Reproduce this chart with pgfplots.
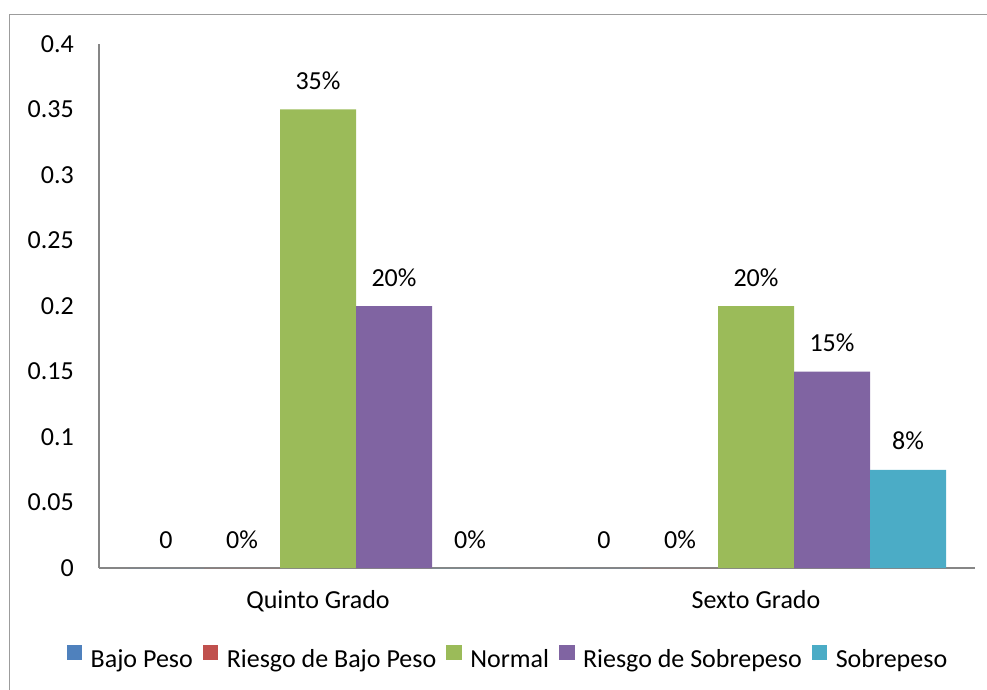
\documentclass[border=0pt]{standalone}
\usepackage{fontspec}
\setmainfont{Carlito}
\usepackage{pgfplots}
\pgfplotsset{compat=1.18}
\definecolor{cBP}{HTML}{4F81BD}
\definecolor{cRBP}{HTML}{C0504D}
\definecolor{cN}{HTML}{9BBB59}
\definecolor{cRS}{HTML}{8064A2}
\definecolor{cS}{HTML}{4BACC6}
\definecolor{axgray}{HTML}{868686}
\definecolor{framegray}{HTML}{9C9C9C}
\begin{document}
\fontsize{26pt}{31pt}\selectfont
\begin{tikzpicture}[x=1pt,y=1pt]
\useasboundingbox (0,0) rectangle (987,689);
\begin{scope}
\clip (0,0) rectangle (987,689);
\draw[line width=1.5pt, framegray] (9.3,-20) rectangle (1010,674.3);
\end{scope}
\begin{axis}[
  at={(99pt,121pt)}, anchor=south west,
  scale only axis, width=876pt, height=524pt,
  ymin=0, ymax=0.4,
  ytick={0,0.05,0.1,0.15,0.2,0.25,0.3,0.35,0.4},
  yticklabels={0,0.05,0.1,0.15,0.2,0.25,0.3,0.35,0.4},
  xmin=-0.5, xmax=1.5, xtick={0,1},
  xticklabels={Quinto Grado, Sexto Grado},
  ybar=0pt, bar width=76pt,
  axis x line*=bottom, axis y line*=left,
  axis line style={draw=axgray, line width=1.3pt, -},
  major tick length=0pt,
  yticklabel style={anchor=east, inner sep=0pt, xshift=-25pt},
  xticklabel style={anchor=base, inner sep=0pt, yshift=-40pt},
  nodes near coords, point meta=explicit symbolic,
  every node near coord/.append style={anchor=base, inner sep=0pt, yshift=20pt, black},
  legend columns=5,
  legend style={at={(0.4657,-0.1718)}, anchor=center, draw=none, fill=none,
    column sep=8.5pt, /tikz/every even column/.append style={column sep=10pt},
    nodes={inner sep=0pt}},
  legend image code/.code={\fill[#1,draw=none] (0pt,0pt) rectangle (15.5pt,15.5pt);},
  clip=false,
]
\addplot[fill=cBP, draw=none] coordinates {(0,0) [0] (1,0) [0]};
\addplot[fill=cRBP, draw=none] coordinates {(0,0) [0\%] (1,0) [0\%]};
\addplot[fill=cN, draw=none] coordinates {(0,0.35) [35\%] (1,0.2) [20\%]};
\addplot[fill=cRS, draw=none] coordinates {(0,0.2) [20\%] (1,0.15) [15\%]};
\addplot[fill=cS, draw=none] coordinates {(0,0) [0\%] (1,0.075) [8\%]};
\legend{Bajo Peso, Riesgo de Bajo Peso, Normal, Riesgo de Sobrepeso, Sobrepeso}
\end{axis}
\end{tikzpicture}
\end{document}
